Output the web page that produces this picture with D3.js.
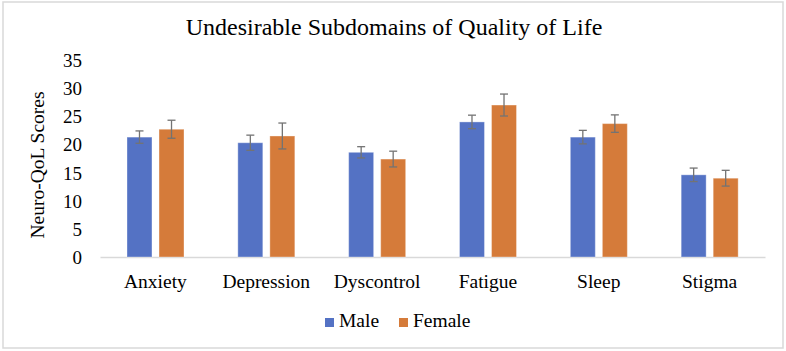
<!DOCTYPE html>
<html>
<head>
<meta charset="utf-8">
<script src="https://cdn.jsdelivr.net/npm/d3@7"></script>
<style>
  body { margin: 0; background: #fff; }
</style>
</head>
<body>
<script>
const categories = ['Anxiety', 'Depression', 'Dyscontrol', 'Fatigue', 'Sleep', 'Stigma'];
const series = ['Male', 'Female'];
const maleValues = [21.3, 20.3, 18.6, 24.0, 21.3, 14.6];
const femaleValues = [22.7, 21.5, 17.4, 27.0, 23.7, 14.0];
const maleErrors = [1.1, 1.35, 1.0, 1.2, 1.2, 1.2];
const femaleErrors = [1.6, 2.3, 1.4, 1.95, 1.55, 1.4];
const yTicks = [0, 5, 10, 15, 20, 25, 30, 35];
const colours = ['#5472c4', '#d57b3a'];

const width = 786;
const height = 351;
const plotLeft = 100, plotRight = 765, plotTop = 60, plotBottom = 257;
const serif = 'Liberation Serif';

const rows = categories.map((c, i) => ({
    category: c,
    values: [
        {series: 'Male', value: maleValues[i], err: maleErrors[i]},
        {series: 'Female', value: femaleValues[i], err: femaleErrors[i]}
    ]
}));

const x0 = d3.scaleBand()
             .domain(categories)
             .range([plotLeft, plotRight])
             .padding(0);

const x1 = d3.scaleBand()
             .domain(series)
             .range([27, 84])
             .paddingInner(0.22);

const y = d3.scaleLinear()
            .domain([0, 35])
            .range([plotBottom, plotTop]);

const colour = d3.scaleOrdinal().domain(series).range(colours);

const svg = d3.select('body')
              .append('svg')
                .attr('width', width)
                .attr('height', height)
                .attr('font-family', serif);

// outer frame
svg.append('rect')
   .attr('x', 3).attr('y', 2)
   .attr('width', 780).attr('height', 346)
   .attr('fill', 'none')
   .attr('stroke', '#d9d9d9')
   .attr('stroke-width', 1.5);

// title
svg.append('text')
   .attr('x', 394)
   .attr('y', 35)
   .attr('text-anchor', 'middle')
   .attr('font-family', serif)
   .attr('font-size', 24)
   .text('Undesirable Subdomains of Quality of Life');

// y axis labels (no line)
const yAxis = svg.append('g')
                 .attr('transform', `translate(${plotLeft - 18}, 0)`)
                 .call(d3.axisLeft(y).tickValues(yTicks).tickSize(0).tickPadding(0));
yAxis.attr('font-family', serif).attr('font-size', 19);
yAxis.select('.domain').remove();
yAxis.selectAll('text')
     .attr('fill', '#000')
     .attr('dy', '0.34em');

svg.append('text')
   .attr('transform', 'translate(44, 165) rotate(-90)')
   .attr('text-anchor', 'middle')
   .attr('font-family', serif)
   .attr('font-size', 19.5)
   .text('Neuro-QoL Scores');

// x axis
const xAxis = svg.append('g')
                 .attr('transform', `translate(0, ${plotBottom})`)
                 .call(d3.axisBottom(x0).tickSize(0).tickPadding(0));
xAxis.attr('font-family', serif).attr('font-size', 19.5);
xAxis.select('.domain')
     .attr('stroke', '#d9d9d9')
     .attr('stroke-width', 1.5);
xAxis.selectAll('text')
     .attr('fill', '#000')
     .attr('y', 31)
     .attr('dy', 0);

// bars
const groups = svg.selectAll('.group')
                  .data(rows)
                  .enter()
                  .append('g')
                    .attr('class', 'group')
                    .attr('transform', (d) => `translate(${x0(d.category)}, 0)`);

groups.selectAll('rect')
      .data((d) => d.values)
      .enter()
      .append('rect')
        .attr('x', (d) => x1(d.series))
        .attr('y', (d) => y(d.value))
        .attr('width', x1.bandwidth())
        .attr('height', (d) => plotBottom - y(d.value))
        .attr('fill', (d) => colour(d.series))
        .attr('stroke', 'rgba(255,255,255,0.35)')
        .attr('stroke-width', 1);

// error bars
const errs = groups.selectAll('.err')
                   .data((d) => d.values)
                   .enter()
                   .append('g')
                     .attr('class', 'err')
                     .attr('stroke', '#737373')
                     .attr('stroke-width', 1.3);
const cx = (d) => x1(d.series) + x1.bandwidth() / 2;
errs.append('line')
    .attr('x1', cx).attr('x2', cx)
    .attr('y1', (d) => y(d.value + d.err))
    .attr('y2', (d) => y(d.value - d.err));
errs.append('line')
    .attr('x1', (d) => cx(d) - 4).attr('x2', (d) => cx(d) + 4)
    .attr('y1', (d) => y(d.value + d.err))
    .attr('y2', (d) => y(d.value + d.err));
errs.append('line')
    .attr('x1', (d) => cx(d) - 4).attr('x2', (d) => cx(d) + 4)
    .attr('y1', (d) => y(d.value - d.err))
    .attr('y2', (d) => y(d.value - d.err));

// legend
const legend = svg.append('g');
const legendX = [325, 399];
series.forEach((s, i) => {
    legend.append('rect')
          .attr('x', legendX[i]).attr('y', 318)
          .attr('width', 9).attr('height', 9)
          .attr('fill', colour(s));
    legend.append('text')
          .attr('x', legendX[i] + 14)
          .attr('y', 327)
          .attr('font-family', serif)
          .attr('font-size', 19.5)
          .text(s);
});
</script>
</body>
</html>
